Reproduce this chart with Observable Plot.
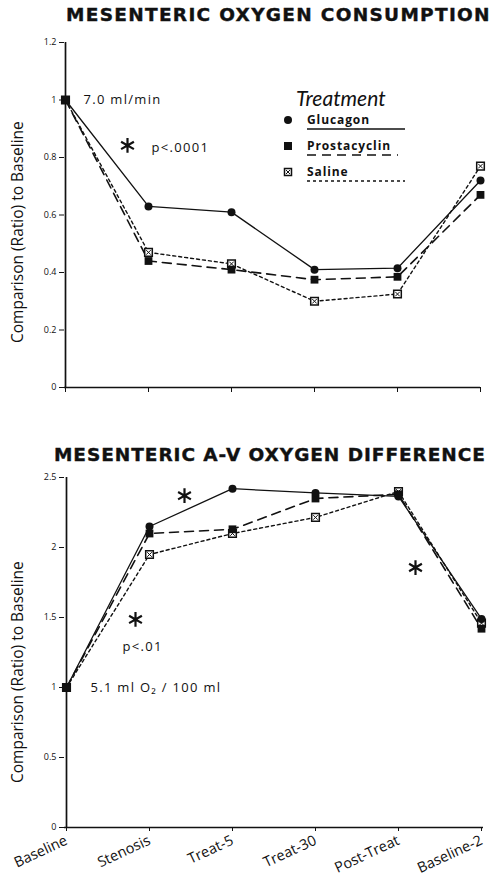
<!DOCTYPE html>
<html><head><meta charset="utf-8">
<script src="https://cdn.jsdelivr.net/npm/d3@7"></script>
<script src="https://cdn.jsdelivr.net/npm/@observablehq/plot@0.6"></script>
<style>
body{margin:0;background:#fff;}
#wrap{position:relative;width:496px;height:877px;overflow:hidden;font-family:"Open Sans",sans-serif;color:#111;}
.title{position:absolute;white-space:nowrap;font-family:"DejaVu Sans",sans-serif;font-weight:bold;font-size:18.5px;letter-spacing:1.3px;line-height:20px;-webkit-text-stroke:0.4px #111;}
.ylab{position:absolute;white-space:nowrap;font-family:"Open Sans",sans-serif;font-size:15.5px;transform-origin:0 0;transform:rotate(-90deg);line-height:18px;}
.chart{position:absolute;left:0;}
#legend{position:absolute;left:270px;top:80px;}
</style></head>
<body><div id="wrap">
<div class="title" id="t1" style="left:66px;top:5px;">MESENTERIC OXYGEN CONSUMPTION</div>
<div class="title" id="t2" style="left:54px;top:445px;letter-spacing:0.95px;">MESENTERIC A-V OXYGEN DIFFERENCE</div>
<div class="ylab" id="yl1" style="left:8px;top:343px;">Comparison (Ratio) to Baseline</div>
<div class="ylab" id="yl2" style="left:8px;top:783px;">Comparison (Ratio) to Baseline</div>
<div class="chart" id="c1" style="top:30px;"></div>
<div class="chart" id="c2" style="top:465px;"></div>
<div id="legend"></div>
</div>
<script>
const stages = ["Baseline","Stenosis","Treat-5","Treat-30","Post-Treat","Baseline-2"];
const treatments = ["Glucagon","Prostacyclin","Saline"];
// Mesenteric oxygen consumption (ratio to baseline)
const o2Glucagon = [1,0.63,0.61,0.41,0.415,0.72];
const o2Prostacyclin = [1,0.44,0.41,0.375,0.385,0.67];
const o2Saline = [1,0.47,0.43,0.30,0.325,0.77];
// Mesenteric A-V oxygen difference (ratio to baseline)
const avGlucagon = [1,2.15,2.42,2.39,2.365,1.49];
const avProstacyclin = [1,2.10,2.13,2.35,2.38,1.42];
const avSaline = [1,1.95,2.10,2.215,2.40,1.46];
const o2Ticks = [0,0.2,0.4,0.6,0.8,1,1.2];
const avTicks = [0,0.5,1,1.5,2,2.5];
// annotations (anchored to a stage and a value)
const o2Notes = [
  {stage:"Baseline", value:1, text:"7.0 ml/min", dx:18},
  {stage:"Baseline", value:0.835, text:"p<.0001", dx:86}
];
const o2Stars = [{stage:"Baseline", value:0.842, dx:62}];
const avNotes = [
  {stage:"Baseline", value:1.29, text:"p<.01", dx:56},
  {stage:"Baseline", value:1, text:"5.1 ml O\u2082 / 100 ml", dx:24}
];
const avStars = [
  {stage:"Stenosis", value:2.37, dx:35},
  {stage:"Post-Treat", value:1.857, dx:17},
  {stage:"Baseline", value:1.486, dx:69}
];

const lineStyle = {
  Glucagon:{dash:null, width:1.3},
  Prostacyclin:{dash:"9,6", width:1.6},
  Saline:{dash:"3,3", width:1.4}
};

function toRows(g,p,s){
  const out=[];
  [g,p,s].forEach((arr,i)=>arr.forEach((v,j)=>out.push({treatment:treatments[i],stage:stages[j],value:v})));
  return out;
}

function chartMarks({data, ticks, yMax, showX, stars}){
  const marks=[
    Plot.ruleX([stages[0]],{y1:0,y2:yMax,stroke:"#111",strokeWidth:1.7}),
    Plot.ruleY([0],{stroke:"#111",strokeWidth:1.7}),
    Plot.axisY({ticks, tickSize:5, tickPadding:3, fontSize:9, label:null, tickFormat:d=>String(d)}),
    showX
      ? Plot.axisX({tickSize:4, tickPadding:8, fontSize:14.5, label:null, tickRotate:-25})
      : Plot.axisX({tickSize:5, label:null, tickFormat:()=>""})
  ];
  for(const t of treatments){
    const st=lineStyle[t];
    marks.push(Plot.line(data.filter(d=>d.treatment===t),{x:"stage",y:"value",stroke:"#111",strokeWidth:st.width,strokeDasharray:st.dash}));
  }
  marks.push(Plot.dot(data.filter(d=>d.treatment==="Saline"),{x:"stage",y:"value",symbol:"square",r:4.3,fill:"white",stroke:"#111",strokeWidth:1.5}));
  marks.push(Plot.dot(data.filter(d=>d.treatment==="Saline"),{x:"stage",y:"value",symbol:"times",r:2.2,stroke:"#111",strokeWidth:1}));
  marks.push(Plot.dot(data.filter(d=>d.treatment==="Prostacyclin"),{x:"stage",y:"value",symbol:"square",r:4.4,fill:"#111"}));
  marks.push(Plot.dot(data.filter(d=>d.treatment==="Glucagon"),{x:"stage",y:"value",symbol:"circle",r:4,fill:"#111"}));
  for(const s of stars){
    marks.push(Plot.dot([s],{x:"stage",y:"value",dx:s.dx,symbol:"asterisk",r:7,stroke:"#111",strokeWidth:2.2}));
  }
  return marks;
}

function makeChart(opts){
  return Plot.plot({
    width:496, height:opts.height, marginLeft:64, marginRight:opts.marginRight, marginTop:12, marginBottom:opts.marginBottom,
    style:{fontFamily:"Open Sans",color:"#111",background:"transparent",overflow:"visible"},
    x:{type:"point", domain:stages, padding:0},
    y:{domain:[0,opts.yMax]},
    marks:[
      ...chartMarks(opts),
      ...opts.notes.map(n=>Plot.text([n],{x:"stage",y:"value",text:"text",dx:n.dx,textAnchor:"start",fontSize:13,fill:"#111"}))
    ]
  });
}

const c1 = makeChart({
  data:toRows(o2Glucagon,o2Prostacyclin,o2Saline), ticks:o2Ticks, yMax:1.2,
  height:390, marginBottom:33, marginRight:16, showX:false, notes:o2Notes, stars:o2Stars
});
const c2 = makeChart({
  data:toRows(avGlucagon,avProstacyclin,avSaline), ticks:avTicks, yMax:2.5,
  height:412, marginBottom:50, marginRight:13, showX:true, notes:avNotes, stars:avStars
});
document.getElementById("c1").append(c1);
document.getElementById("c2").append(c2);
// widen annotation letter spacing
for(const c of [c1,c2]) c.querySelectorAll('g[aria-label="text"] text').forEach(t=>t.setAttribute("letter-spacing","1.3"));

// legend
const legendItems = treatments.map((t,i)=>({t, y:40+i*26}));
let svg = `<svg width="150" height="110" xmlns="http://www.w3.org/2000/svg" style="overflow:visible">
<text x="26" y="26" font-family="Lato" font-size="21" font-style="italic" fill="#111">Treatment</text>`;
legendItems.forEach(({t,y})=>{
  const st=lineStyle[t];
  if(t==="Glucagon") svg+=`<circle cx="18" cy="${y}" r="4" fill="#111"/>`;
  else if(t==="Prostacyclin") svg+=`<rect x="14" y="${y-4}" width="8" height="8" fill="#111"/>`;
  else svg+=`<rect x="14.5" y="${y-3.5}" width="7" height="7" fill="white" stroke="#111" stroke-width="1.5"/><path d="M16 ${y-2}L20 ${y+2}M20 ${y-2}L16 ${y+2}" stroke="#111" stroke-width="1"/>`;
  svg+=`<text x="37" y="${y+4}" font-family="Open Sans" font-weight="bold" font-size="12" letter-spacing="0.9" fill="#111">${t}</text>`;
  svg+=`<line x1="37" x2="${t==="Prostacyclin"?128:135}" y1="${y+9}" y2="${y+9}" stroke="#111" stroke-width="${st.width}" ${st.dash?`stroke-dasharray="${st.dash}"`:""}/>`;
});
svg+=`</svg>`;
document.getElementById("legend").innerHTML=svg;
</script>
</body></html>
